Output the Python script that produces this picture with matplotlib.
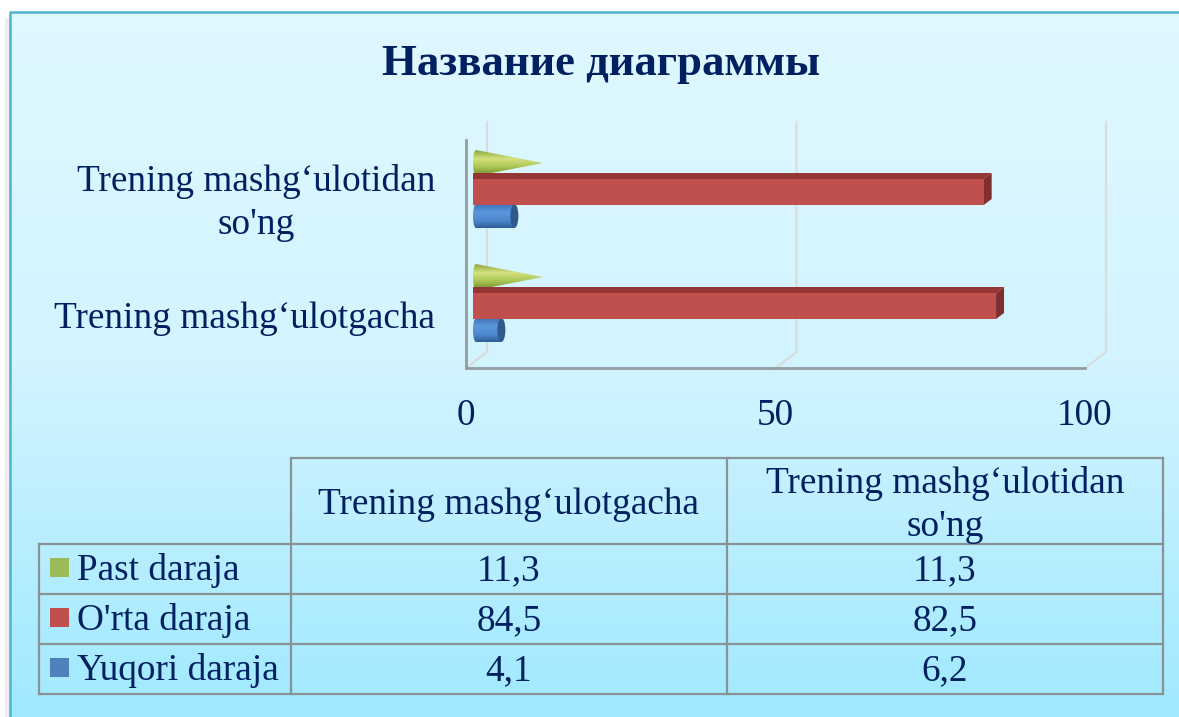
# Diagram batang 3D (gaya Excel) dengan tabel data di bawahnya

import numpy as np
import matplotlib
matplotlib.use("Agg")
import matplotlib.pyplot as plt
from matplotlib.colors import LinearSegmentedColormap
from matplotlib.patches import Polygon, Rectangle, Ellipse

plt.rcParams['font.family'] = ['Liberation Serif', 'DejaVu Serif']

# Data
judul = "Название диаграммы"
kategori = ["Trening mashg\u2018ulotgacha", "Trening mashg\u2018ulotidan\nso'ng"]
seri = ["Past daraja", "O'rta daraja", "Yuqori daraja"]
past = [11.3, 11.3]
orta = [84.5, 82.5]
yuqori = [4.1, 6.2]
nilai_tabel = [["11,3", "11,3"], ["84,5", "82,5"], ["4,1", "6,2"]]
xticks = [0, 50, 100]

# Warna
NAVY = "#002060"
HIJAU, MERAH, BIRU = "#9bbb59", "#c0504d", "#4f81bd"
GARIS = "#8a9294"

W, H = 1179, 717
fig = plt.figure(figsize=(W / 100, H / 100), dpi=100, facecolor="white")

# Latar belakang + tabel, koordinat piksel
bg = fig.add_axes([0, 0, 1, 1], zorder=0)
bg.set_xlim(0, W)
bg.set_ylim(H, 0)
bg.axis("off")
bg.add_patch(Rectangle((5, 18), 6, H, fc="#eeeeee", ec="none"))
grad_bg = LinearSegmentedColormap.from_list("bg", ["#e0f8ff", "#d2f4ff", "#a0e9ff"])
bg.imshow(np.linspace(0, 1, 256)[:, None], cmap=grad_bg, aspect="auto",
          extent=(10, W, H, 12), zorder=1)
bg.plot([10, 10, W], [H, 12, 12], color="#4fb3cf", lw=1.8, zorder=2)
bg.set_xlim(0, W)
bg.set_ylim(H, 0)

bg.text(601, 64, judul, fontsize=32.2, fontweight="bold", color=NAVY, ha="center", va="center")

x_tbl = [39, 291, 727, 1163]
y_tbl = [458, 544, 594, 644, 694]
kw_tbl = dict(color=GARIS, lw=1.6, zorder=3, solid_capstyle="projecting")
bg.plot([x_tbl[1], x_tbl[3]], [y_tbl[0]] * 2, **kw_tbl)
for yy in y_tbl[1:]:
    bg.plot([x_tbl[0], x_tbl[3]], [yy, yy], **kw_tbl)
bg.plot([x_tbl[0]] * 2, [y_tbl[1], y_tbl[4]], **kw_tbl)
for xx in x_tbl[1:]:
    bg.plot([xx, xx], [y_tbl[0], y_tbl[4]], **kw_tbl)

fs = 26.8
for c, nama in enumerate(kategori):
    bg.text((x_tbl[c + 1] + x_tbl[c + 2]) / 2, 505, nama, fontsize=fs, color=NAVY,
            ha="center", va="center", linespacing=1.33, zorder=4)
for r, (nama, warna) in enumerate(zip(seri, [HIJAU, MERAH, BIRU])):
    yc = (y_tbl[r + 1] + y_tbl[r + 2]) / 2
    bg.add_patch(Rectangle((50, yc - 11), 19, 19, fc=warna, ec="none", zorder=4))
    bg.text(77, yc + 2, nama, fontsize=fs, color=NAVY, ha="left", va="center", zorder=4)
    for c in range(2):
        bg.text((x_tbl[c + 1] + x_tbl[c + 2]) / 2, yc + 2, nilai_tabel[r][c], fontsize=fs,
                color=NAVY, ha="center", va="center", zorder=4)

# Panel grafik
x_kiri, x_kanan, y_atas, y_bawah = 466, 1085, 140, 368
ax = fig.add_axes([x_kiri / W, 1 - y_bawah / H, (x_kanan - x_kiri) / W, (y_bawah - y_atas) / H],
                  zorder=1)
ax.patch.set_alpha(0)
px = 100 / (x_kanan - x_kiri)   # satuan data per piksel (x)
py = 2 / (y_bawah - y_atas)     # satuan data per piksel (y)
pos = np.array([0.5, 1.5])

# Dinding belakang dan gridline
dinding = "#d8dcda"
for t in xticks:
    ax.plot([t, t + 21 * px, t + 21 * px], [0, 16 * py, 246 * py], color=dinding, lw=1.5,
            clip_on=False, zorder=1)


def gradien(warna, extent, patch, z):
    cm = LinearSegmentedColormap.from_list("g", warna)
    im = ax.imshow(np.linspace(0, 1, 64)[:, None], cmap=cm, aspect="auto", origin="lower",
                   extent=extent, zorder=z)
    patch.set(fc="none", ec="none", transform=ax.transData)
    ax.add_patch(patch)
    im.set_clip_path(patch)


dx0 = 7 * px
sudut = np.linspace(np.pi / 2, 3 * np.pi / 2, 24)
# Kerucut (Past daraja), alasnya melengkung
for y0, v in zip(pos, past):
    yc = y0 + 34 * py
    tinggi = 13 * py
    busur = [(dx0 + 3 * px * (1 + np.cos(a)), yc + tinggi * np.sin(a)) for a in sudut]
    tepi = Polygon(busur + [(v + dx0, yc)])
    gradien(["#6f8a2c", "#a9c452", "#d3e27e", "#8da63c"],
            (dx0, v + dx0, yc - tinggi, yc + tinggi), tepi, 2)

# Silinder (Yuqori daraja), ujung kiri melengkung
for y0, v in zip(pos, yuqori):
    yc = y0 - 19 * py
    tinggi = 12 * py
    busur = [(dx0 + 3 * px * (1 + np.cos(a)), yc + tinggi * np.sin(a)) for a in sudut]
    ujung = v + 10 * px
    tepi = Polygon(busur + [(ujung, yc - tinggi), (ujung, yc + tinggi)])
    gradien(["#2f5f96", "#4f8ad0", "#5b97dc", "#3f74b4"],
            (dx0, ujung, yc - tinggi, yc + tinggi), tepi, 2)
    ax.add_patch(Ellipse((ujung, yc), 8 * px, 2 * tinggi, fc="#2f5a8c", ec="none", zorder=3))

# Batang merah (O'rta daraja)
t_bar = 26 * py
y_bar = pos + 5 * py
ax.barh(y_bar, orta, height=t_bar, left=dx0, color=MERAH, zorder=6)
for yb, v in zip(y_bar, orta):
    atas = yb + t_bar / 2
    bawah = yb - t_bar / 2
    kanan = v + dx0
    ax.add_patch(Polygon([(dx0, atas), (kanan, atas), (kanan + 8 * px, atas + 6 * py),
                          (dx0, atas + 6 * py)], fc="#943634", ec="none", zorder=5))
    ax.add_patch(Polygon([(kanan, bawah), (kanan, atas), (kanan + 8 * px, atas + 6 * py),
                          (kanan + 8 * px, bawah + 6 * py)], fc="#7f2f2d", ec="none", zorder=5))

# Sumbu depan
ax.set_xlim(0, 100)
ax.set_ylim(0, 2)
for s in ("top", "right"):
    ax.spines[s].set_visible(False)
for s in ("left", "bottom"):
    ax.spines[s].set_color("#949c9e")
    ax.spines[s].set_linewidth(2)
ax.set_xticks(xticks)
ax.set_yticks(pos + np.array([-4, 2]) * py)
ax.set_yticklabels(kategori, multialignment="center", linespacing=1.33)
ax.tick_params(axis="both", length=0, labelsize=fs, labelcolor=NAVY)
ax.tick_params(axis="x", pad=22)
ax.tick_params(axis="y", pad=22)

fig.savefig("out.png", dpi=100)
